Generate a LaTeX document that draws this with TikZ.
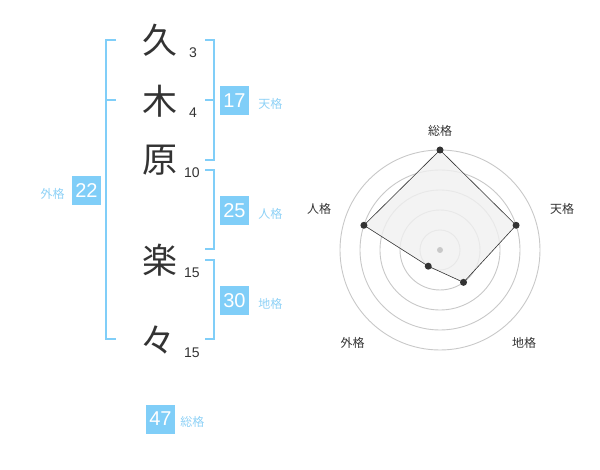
\documentclass[tikz,border=0pt]{standalone}
\usepackage{fontspec}
\setmainfont{Liberation Sans}
\newfontfamily\jpfont{Noto Sans CJK JP}
\usepackage{tikz}
\usetikzlibrary{positioning}
\definecolor{kakublue}{HTML}{80CEF8}
\definecolor{labelblue}{HTML}{8ED1F6}
\definecolor{inkgrey}{HTML}{333333}
\definecolor{ringgrey}{HTML}{C8C8C8}
\definecolor{areagrey}{HTML}{F0F0F0}

\begin{document}
\begin{tikzpicture}[x=1pt, y=-1pt,
    kanji/.style = {inner sep=0pt, text=inkgrey, font=\jpfont\fontsize{35}{35}\selectfont},
    strokes/.style = {inner sep=0pt, text=inkgrey, font=\fontsize{14}{14}\selectfont},
    kakubox/.style = {fill=kakublue, text=white, minimum size=29pt, inner sep=0pt, font=\fontsize{20}{20}\selectfont},
    kakulabel/.style = {inner sep=0pt, text=labelblue, font=\jpfont\fontsize{12}{12}\selectfont},
    bracket/.style = {draw=kakublue, line width=1.6pt},
    axislabel/.style = {inner sep=0pt, text=inkgrey, font=\jpfont\fontsize{12}{12}\selectfont},
    ring/.style = {draw=ringgrey, line width=0.9pt},
    dot/.style = {circle, fill=inkgrey, inner sep=0pt, minimum size=7pt}]
  \useasboundingbox (0,0) rectangle (600,470);

  % name
  \node[kanji] (kyu)  at (160,40)  {久};
  \node[kanji] (ki)   at (160,101) {木};
  \node[kanji] (hara) at (160,160) {原};
  \node[kanji] (raku) at (160,260) {楽};
  \node[kanji] (rep)  at (158,340) {々};

  \node[strokes] (kyun)  at (193,53)  {3};
  \node[strokes] (kin)   at (193,113) {4};
  \node[strokes] (haran) at (192,173) {10};
  \node[strokes] (rakun) at (192,273) {15};
  \node[strokes] (repn)  at (192,353) {15};

  % brackets
  \draw[bracket] (116,40) -- (106,40) -- (106,339) -- (116,339);
  \draw[bracket] (106,100) -- (116,100);
  \draw[bracket] (205,40) -- (214,40) -- (214,160) -- (205,160);
  \draw[bracket] (205,100) -- (214,100);
  \draw[bracket] (205,170) -- (214,170) -- (214,249) -- (205,249);
  \draw[bracket] (205,260) -- (214,260) -- (214,339) -- (205,339);

  % scores
  \node[kakubox] (tenbox)  at (234.5,100.5) {17};
  \node[kakulabel, right=9pt of tenbox, yshift=-3pt] (tent) {天格};
  \node[kakubox] (jinbox)  at (234.5,210.5) {25};
  \node[kakulabel, right=9pt of jinbox, yshift=-3pt] (jint) {人格};
  \node[kakubox] (chibox)  at (234.5,300.5) {30};
  \node[kakulabel, right=9pt of chibox, yshift=-3pt] (chit) {地格};
  \node[kakubox] (gaibox)  at (86.5,190.5)  {22};
  \node[kakulabel, left=7pt of gaibox, yshift=-3pt] (gait) {外格};
  \node[kakubox] (soubox)  at (160.5,419)   {47};
  \node[kakulabel, right=5pt of soubox, yshift=-3pt] (sout) {総格};

  % radar
  \begin{scope}[shift={(440,250)}, y=1pt]
    \foreach \r in {20,40,60,80,100}
      \draw[ring] (0,0) circle [radius=\r];
    \coordinate (souv) at (90:100);
    \coordinate (tenv) at (18:80);
    \coordinate (chiv) at (-54:40);
    \coordinate (gaiv) at (-126:20);
    \coordinate (jinv) at (162:80);
    \draw[fill=areagrey, fill opacity=0.8, draw=inkgrey, line width=0.6pt]
      (souv) -- (tenv) -- (chiv) -- (gaiv) -- (jinv) -- cycle;
    \foreach \v in {souv,tenv,chiv,gaiv,jinv}
      \node[dot] (\v dot) at (\v) {};
    \node[circle, fill=ringgrey, inner sep=0pt, minimum size=6pt] (centre) at (0,0) {};
  \end{scope}

  \node[axislabel] (soua) at (440,131)   {総格};
  \node[axislabel] (tena) at (562,209)   {天格};
  \node[axislabel] (chia) at (524,342.5) {地格};
  \node[axislabel] (gaia) at (352.5,342.5) {外格};
  \node[axislabel] (jina) at (319,209)   {人格};
\end{tikzpicture}
\end{document}
